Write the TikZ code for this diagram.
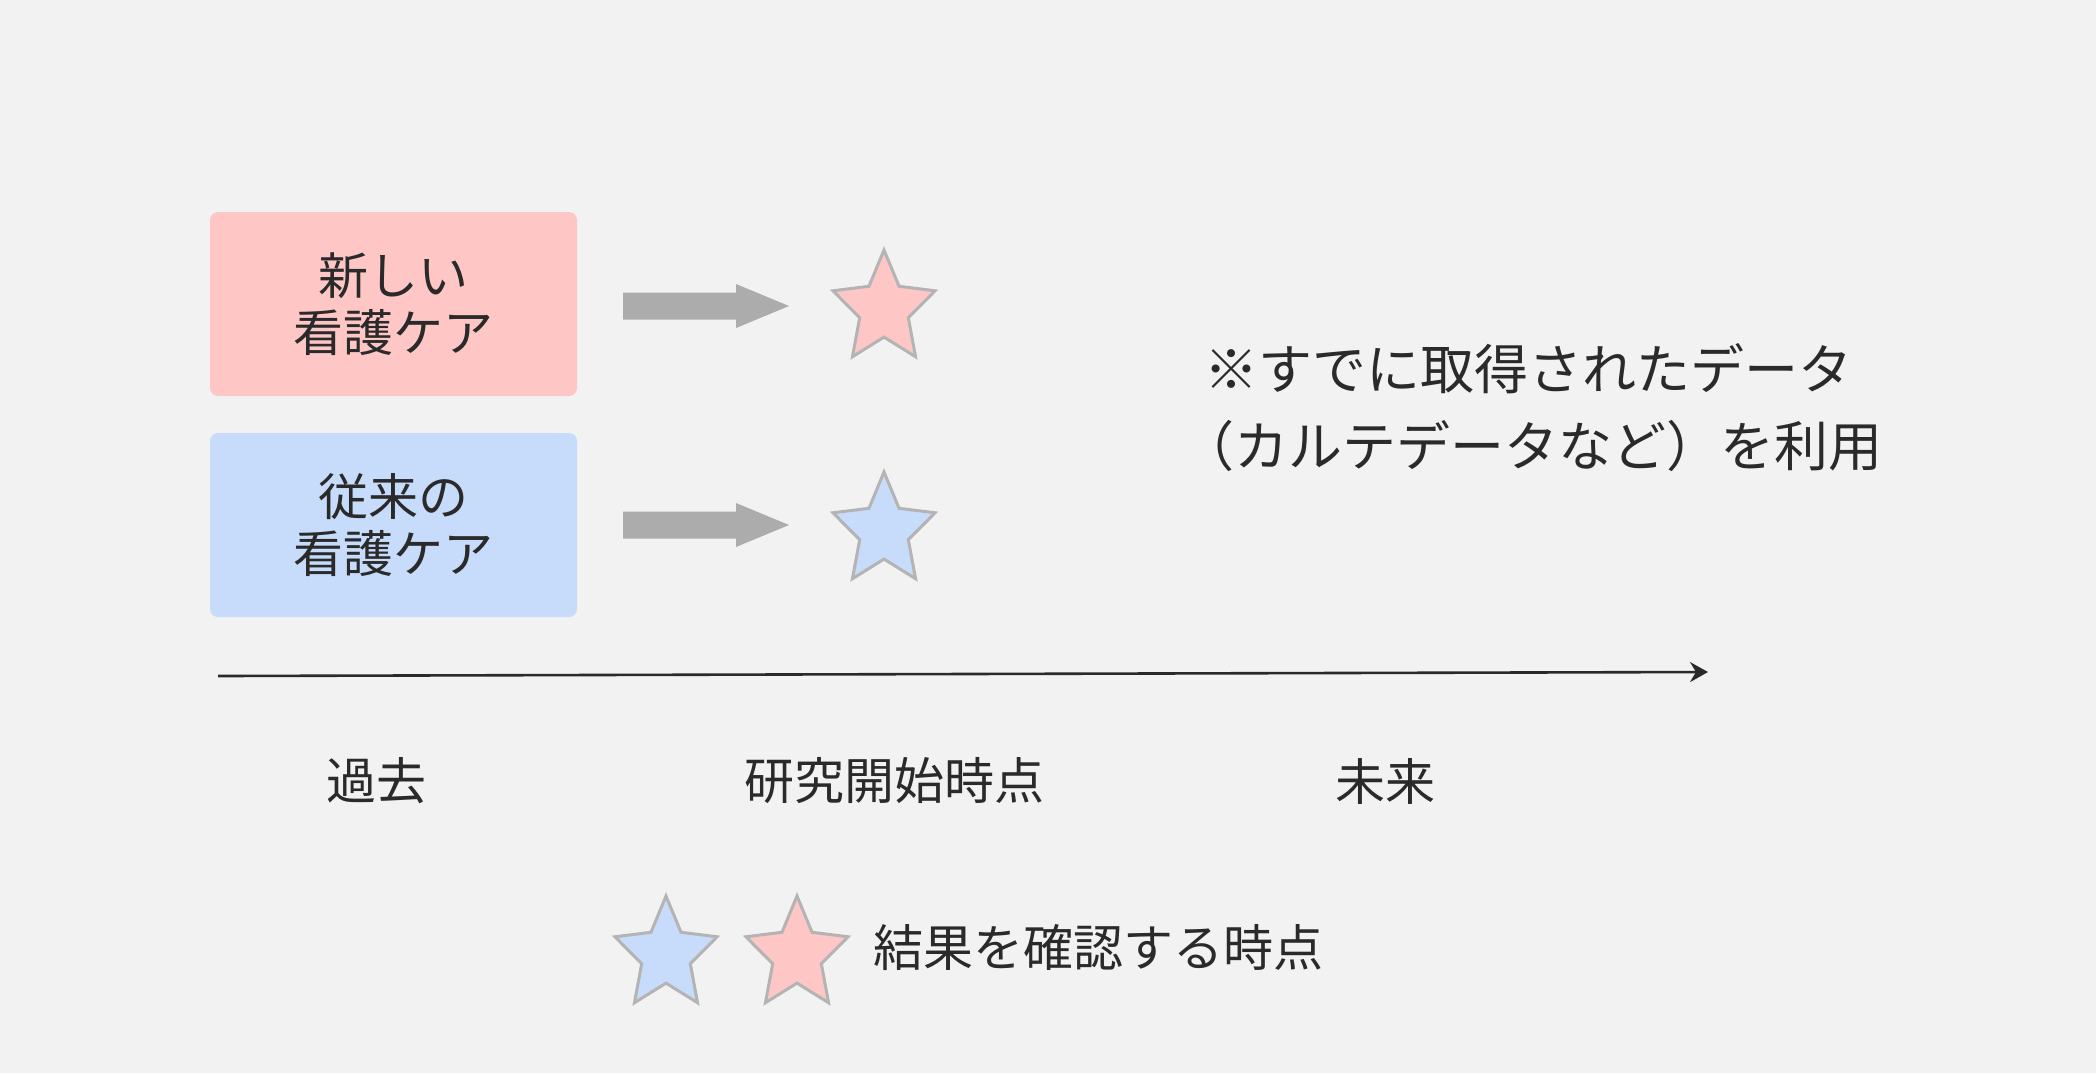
\documentclass[tikz,border=0pt]{standalone}
\usepackage{fontspec}
\setmainfont{Noto Sans CJK JP}
\usetikzlibrary{shapes.geometric,arrows.meta}
\definecolor{bg}{HTML}{F2F2F2}
\definecolor{pinkfill}{HTML}{FFC6C6}
\definecolor{bluefill}{HTML}{C6DCFA}
\definecolor{arrowgray}{HTML}{ACACAC}
\definecolor{stargray}{HTML}{B4B4B4}
\definecolor{txt}{HTML}{2A2A2A}
\begin{document}
\begin{tikzpicture}[x=0.5pt,y=-0.5pt,
  carebox/.style={rounded corners=4pt, minimum width=183.5pt, minimum height=92pt, inner sep=0pt, text=txt, align=center, font=\fontsize{25}{28.5}\selectfont},
  mystar/.style={star, star points=5, star point ratio=2.1, minimum size=59pt, inner sep=0pt, draw=stargray, line width=1.5pt, transform shape},
  starscope/.style={shift={#1}, xscale=0.91},
  lbl/.style={text=txt, font=\fontsize{25}{30}\selectfont, inner sep=0pt},
  blockarr/.pic={\fill[arrowgray] (0,-13.5) -- (113,-13.5) -- (113,-22) -- (166,0) -- (113,22) -- (113,13.5) -- (0,13.5) -- cycle;}]
\fill[bg] (0,0) rectangle (2096,1073);
\useasboundingbox (0,0) rectangle (2096,1073);
% boxes
\node[carebox, fill=pinkfill] (newcare) at (393.5,304) {新しい\\看護ケア};
\node[carebox, fill=bluefill] (oldcare) at (393.5,525) {従来の\\看護ケア};
% block arrows
\pic (arrA) at (623,306) {blockarr};
\pic (arrB) at (623,525) {blockarr};
% stars
\begin{scope}[starscope={(884,309)}]
  \node[mystar, fill=pinkfill] (starA) at (0,0) {};
\end{scope}
\begin{scope}[starscope={(884,531)}]
  \node[mystar, fill=bluefill] (starB) at (0,0) {};
\end{scope}
% timeline
\coordinate (tl) at (218,676);
\coordinate (tr) at (1708,672);
\draw[line width=1.3pt, draw=txt, -{Stealth[length=9pt,width=10pt,inset=3pt]}] (tl) -- (tr);
\node[lbl] (past) at (376,781) {過去};
\node[lbl] (start) at (894,781) {研究開始時点};
\node[lbl] (future) at (1385,781) {未来};
% note
\node[anchor=west, align=left, text=txt, font=\fontsize{27}{38.5}\selectfont, inner sep=0pt] (note) at (1204,407.5) {※すでに取得されたデータ\\\kern-0.45em（カルテデータなど）を利用};
% legend
\begin{scope}[starscope={(666,955)}]
  \node[mystar, fill=bluefill] (legB) at (0,0) {};
\end{scope}
\begin{scope}[starscope={(797,955)}]
  \node[mystar, fill=pinkfill] (legA) at (0,0) {};
\end{scope}
\node[lbl, anchor=west] (legtext) at (873,948) {結果を確認する時点};
\end{tikzpicture}
\end{document}
